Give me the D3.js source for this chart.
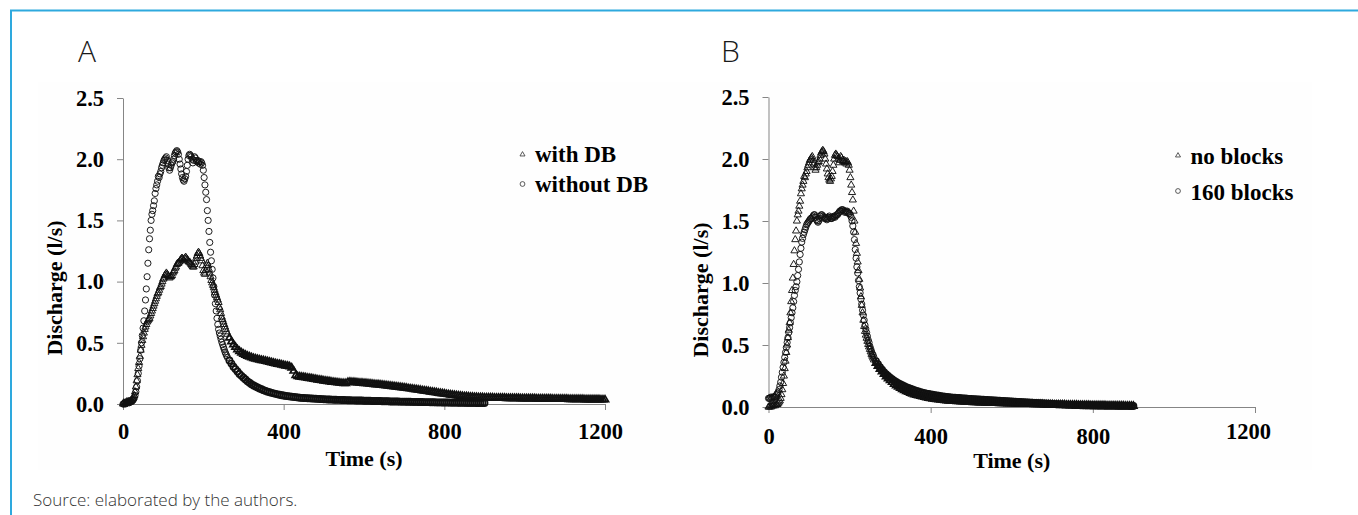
<!DOCTYPE html>
<html><head><meta charset="utf-8">
<script src="https://cdn.jsdelivr.net/npm/d3@7"></script>
<style>html,body{margin:0;padding:0;background:#fff}svg{display:block}</style>
</head><body>
<svg id="c" width="1358" height="515"></svg>
<script>
// ---------------- DATA ----------------
const xTicks = [0, 400, 800, 1200];
const yTicks = [0, 0.5, 1.0, 1.5, 2.0, 2.5];
// sampling of the series: rising/peak segment and tail segment
const peakStart = 0, peakStep = 2;      // t = 0..260 s
const tailStart = 265, tailStep = 5;    // t = 265.. s

const withoutDB_peak = [
 0.00,0.00,0.01,0.00,0.01,0.01,0.01,0.02,0.01,0.02,
 0.02,0.02,0.03,0.04,0.05,0.07,0.10,0.14,0.19,0.25,
 0.31,0.37,0.44,0.50,0.56,0.62,0.68,0.76,0.85,0.94,
 1.04,1.15,1.26,1.35,1.42,1.50,1.55,1.58,1.62,1.66,
 1.72,1.76,1.79,1.82,1.86,1.85,1.88,1.90,1.93,1.95,
 1.97,1.99,2.00,2.01,2.02,1.99,1.96,1.93,1.91,1.93,
 1.95,1.97,1.98,2.00,2.03,2.05,2.06,2.07,2.06,2.04,
 2.00,1.96,1.92,1.88,1.85,1.83,1.82,1.84,1.86,1.90,
 1.95,2.00,2.03,2.04,2.03,2.02,2.00,1.97,1.99,2.02,
 2.01,1.99,1.98,1.99,1.97,1.98,1.96,1.98,1.97,1.95,
 1.91,1.85,1.79,1.73,1.67,1.58,1.50,1.41,1.32,1.24,
 1.17,1.10,1.03,0.96,0.89,0.82,0.76,0.70,0.65,0.61,
 0.58,0.555,0.53,0.505,0.485,0.465,0.445,0.425,0.41,0.395,
 0.38];
const withoutDB_tail = [
 0.355,0.33,0.305,0.285,0.265,0.245,0.23,0.215,0.20,0.185,
 0.173,0.162,0.152,0.143,0.135,0.127,0.12,0.113,0.107,0.101,
 0.096,0.091,0.087,0.083,0.079,0.075,0.072,0.069,0.066,0.064,
 0.062,0.06,0.058,0.056,0.054,0.052,0.05,0.049,0.048,0.047,
 0.046,0.045,0.044,0.043,0.042,0.041,0.04,0.039,0.038,0.037,
 0.037,0.036,0.035,0.035,0.034,0.034,0.033,0.033,0.032,0.031,
 0.031,0.03,0.03,0.029,0.029,0.028,0.028,0.027,0.027,0.026,
 0.026,0.025,0.025,0.024,0.024,0.024,0.023,0.023,0.022,0.022,
 0.021,0.021,0.021,0.02,0.02,0.019,0.019,0.019,0.018,0.018,
 0.018,0.017,0.017,0.017,0.016,0.016,0.016,0.015,0.015,0.015,
 0.014,0.014,0.014,0.013,0.013,0.013,0.012,0.012,0.012,0.012,
 0.011,0.011,0.011,0.011,0.01,0.01,0.01,0.01,0.009,0.009,
 0.009,0.009,0.009,0.008,0.008,0.008,0.008,0.008];

const withDB_peak = [
 0.00,0.01,0.00,0.01,0.01,0.02,0.01,0.02,0.02,0.02,
 0.03,0.03,0.04,0.05,0.07,0.10,0.14,0.19,0.24,0.29,
 0.34,0.39,0.44,0.48,0.52,0.55,0.58,0.61,0.63,0.65,
 0.67,0.68,0.69,0.70,0.72,0.74,0.76,0.78,0.80,0.82,
 0.84,0.86,0.88,0.90,0.91,0.93,0.95,0.96,0.98,1.00,
 1.02,1.03,1.05,1.06,1.07,1.06,1.05,1.04,1.03,1.04,
 1.04,1.05,1.07,1.08,1.09,1.11,1.12,1.14,1.15,1.15,
 1.16,1.17,1.18,1.19,1.19,1.18,1.17,1.19,1.20,1.19,
 1.18,1.17,1.16,1.16,1.15,1.14,1.13,1.12,1.12,1.14,
 1.16,1.19,1.21,1.23,1.24,1.23,1.21,1.19,1.17,1.13,
 1.09,1.07,1.06,1.09,1.13,1.15,1.13,1.10,1.07,1.04,
 1.01,0.99,0.97,0.95,0.93,0.91,0.89,0.87,0.85,0.83,
 0.79,0.77,0.74,0.71,0.69,0.67,0.65,0.63,0.61,0.59,
 0.57];
const withDB_tail = [
 0.54,0.51,0.485,0.465,0.445,0.43,0.418,0.408,0.399,0.391,
 0.385,0.379,0.374,0.369,0.365,0.361,0.357,0.354,0.351,0.347,
 0.343,0.339,0.335,0.331,0.327,0.324,0.32,0.316,0.312,0.31,
 0.305,0.295,0.27,0.235,0.225,0.222,0.22,0.218,0.215,0.212,
 0.21,0.207,0.204,0.201,0.198,0.196,0.193,0.19,0.188,0.185,
 0.183,0.18,0.178,0.176,0.174,0.172,0.17,0.168,0.168,0.178,
 0.18,0.178,0.177,0.175,0.174,0.172,0.171,0.169,0.168,0.166,
 0.165,0.163,0.161,0.159,0.158,0.156,0.154,0.152,0.15,0.148,
 0.146,0.144,0.142,0.14,0.138,0.136,0.134,0.132,0.13,0.127,
 0.125,0.123,0.12,0.118,0.115,0.113,0.11,0.108,0.105,0.103,
 0.1,0.098,0.095,0.093,0.09,0.088,0.085,0.083,0.08,0.078,
 0.075,0.073,0.071,0.069,0.067,0.065,0.063,0.061,0.06,0.058,
 0.057,0.056,0.055,0.054,0.053,0.052,0.052,0.051,0.051,0.05,
 0.05,0.05,0.049,0.049,0.049,0.048,0.048,0.048,0.047,0.047,
 0.047,0.046,0.046,0.046,0.046,0.045,0.045,0.045,0.045,0.044,
 0.044,0.044,0.044,0.043,0.043,0.043,0.043,0.042,0.042,0.042,
 0.042,0.041,0.041,0.041,0.041,0.04,0.04,0.04,0.04,0.039,
 0.039,0.039,0.039,0.038,0.038,0.038,0.038,0.037,0.037,0.037,
 0.037,0.036,0.036,0.036,0.036,0.035,0.035,0.035];

// panel B: "no blocks" is the same run as "without DB"
const noBlocks_peak = withoutDB_peak;
const noBlocks_tail = withoutDB_tail;
const blocks160_peak = [
 0.07,0.07,0.07,0.08,0.07,0.08,0.08,0.08,0.08,0.09,
 0.10,0.11,0.12,0.14,0.17,0.20,0.24,0.28,0.32,0.36,
 0.40,0.44,0.48,0.52,0.56,0.60,0.64,0.68,0.72,0.76,
 0.80,0.85,0.90,0.94,0.97,1.01,1.06,1.11,1.17,1.23,
 1.28,1.33,1.36,1.39,1.41,1.43,1.45,1.47,1.48,1.49,
 1.50,1.51,1.52,1.52,1.53,1.54,1.55,1.55,1.53,1.51,
 1.50,1.49,1.50,1.52,1.54,1.55,1.55,1.54,1.53,1.52,
 1.53,1.52,1.51,1.52,1.53,1.54,1.53,1.52,1.52,1.53,
 1.53,1.54,1.53,1.54,1.55,1.55,1.56,1.57,1.58,1.58,
 1.59,1.59,1.59,1.58,1.57,1.58,1.57,1.58,1.57,1.56,
 1.56,1.55,1.53,1.50,1.46,1.41,1.35,1.27,1.20,1.13,
 1.08,1.02,0.97,0.92,0.87,0.83,0.78,0.74,0.70,0.66,
 0.63,0.60,0.57,0.54,0.52,0.49,0.47,0.45,0.43,0.42,
 0.40];
const blocks160_tail = [
 0.37,0.345,0.32,0.30,0.28,0.265,0.25,0.237,0.225,0.213,
 0.202,0.192,0.183,0.175,0.167,0.16,0.153,0.147,0.141,0.135,
 0.13,0.125,0.12,0.116,0.112,0.108,0.105,0.102,0.099,0.096,
 0.093,0.091,0.088,0.086,0.084,0.082,0.08,0.078,0.076,0.075,
 0.073,0.072,0.07,0.069,0.068,0.066,0.065,0.064,0.063,0.062,
 0.061,0.06,0.059,0.058,0.057,0.056,0.055,0.054,0.053,0.052,
 0.051,0.05,0.049,0.048,0.047,0.046,0.045,0.044,0.043,0.042,
 0.041,0.04,0.039,0.038,0.037,0.036,0.035,0.034,0.033,0.032,
 0.031,0.03,0.029,0.028,0.027,0.026,0.025,0.024,0.023,0.022,
 0.021,0.021,0.02,0.019,0.018,0.018,0.017,0.016,0.016,0.015,
 0.015,0.014,0.014,0.013,0.013,0.013,0.012,0.012,0.012,0.011,
 0.011,0.011,0.011,0.01,0.01,0.01,0.01,0.01,0.01,0.009,
 0.009,0.009,0.009,0.009,0.009,0.008,0.008,0.008];

const legendA = ["with DB", "without DB"];
const legendB = ["no blocks", "160 blocks"];
const panelLabels = ["A", "B"];
const xTitle = "Time (s)";
const yTitle = "Discharge (l/s)";
const sourceText = "Source: elaborated by the authors.";

// ---------------- DRAW ----------------
const svg = d3.select("#c");
const serif = "'Liberation Serif','Times New Roman',Times,serif";
const sans = "'Open Sans','Lato','DejaVu Sans',sans-serif";

svg.append("rect").attr("x",38).attr("y",82).attr("width",1274).attr("height",388).attr("fill","#fefefe");
svg.append("path").attr("d","M11,515V10.5H1358").attr("fill","none")
   .attr("stroke","#2ea9de").attr("stroke-width",2);

function toPoints(peak, tail){
  const a = peak.map((q,i)=>({t: peakStart + i*peakStep, q, tail: false}));
  const b = tail.map((q,i)=>({t: tailStart + i*tailStep, q, tail: true}));
  return a.concat(b);
}

const triSym = d3.symbol().type(d3.symbolTriangle).size(22);
const triLeg = d3.symbol().type(d3.symbolTriangle).size(11);

const panels = [
  {label: panelLabels[0], lx: 78, x0: 123, x1: 605, yb: 404, yt: 98,
   series: [ {pts: toPoints(withDB_peak, withDB_tail), shape: "tri"},
             {pts: toPoints(withoutDB_peak, withoutDB_tail), shape: "circ"} ],
   legend: legendA, legX: 522.5, legMarkY: [154.5, 184], legTextY: [162, 192],
   yTitleX: 62, yTitleY: 288, xPad: 13.2, titleY: 466, lastDx: -5, lastDy: 0},
  {label: panelLabels[1], lx: 721, x0: 768.5, x1: 1255, yb: 407, yt: 97,
   series: [ {pts: toPoints(noBlocks_peak, noBlocks_tail), shape: "tri"},
             {pts: toPoints(blocks160_peak, blocks160_tail), shape: "circ"} ],
   legend: legendB, legX: 1178, legMarkY: [155.5, 191], legTextY: [163.5, 199.5],
   yTitleX: 708, yTitleY: 290, xPad: 14.6, titleY: 468, lastDx: -7, lastDy: -5}
];

panels.forEach(p => {
  const x = d3.scaleLinear().domain([0,1200]).range([p.x0, p.x1]);
  const y = d3.scaleLinear().domain([0,2.5]).range([p.yb, p.yt]);

  // panel letter
  svg.append("text").attr("x",p.lx).attr("y",62).text(p.label)
     .attr("font-family",sans).attr("font-weight",300).attr("font-size",30).attr("fill","#1a1a1a");

  // axes
  const gy = svg.append("g").attr("transform",`translate(${p.x0},0)`)
     .call(d3.axisLeft(y).tickValues(yTicks).tickFormat(d3.format(".1f")).tickSize(6).tickSizeOuter(0).tickPadding(13));
  const gx = svg.append("g").attr("transform",`translate(0,${p.yb})`)
     .call(d3.axisBottom(x).tickValues(xTicks).tickFormat(d3.format("d")).tickSize(6).tickSizeOuter(0).tickPadding(p.xPad));
  [gx, gy].forEach(g => {
    g.attr("font-family", serif).attr("font-size", 22.5).attr("font-weight","bold");
    g.selectAll("path,line").attr("stroke","#858585").attr("stroke-width",1);
    g.selectAll("text").attr("fill","#000");
  });
  gx.selectAll(".tick").filter(d => d === 1200).select("text")
    .attr("dx", p.lastDx).attr("transform", `translate(0,${p.lastDy})`);

  // titles
  svg.append("text").attr("x",(p.x0+p.x1)/2).attr("y",p.titleY).attr("text-anchor","middle")
     .attr("font-family",serif).attr("font-weight","bold").attr("font-size",22).text(xTitle);
  svg.append("text").attr("transform",`translate(${p.yTitleX},${p.yTitleY}) rotate(-90)`)
     .attr("text-anchor","middle").attr("font-family",serif).attr("font-weight","bold")
     .attr("font-size",22).text(yTitle);

  // data marks
  p.series.forEach(s => {
    const g = svg.append("g").attr("fill","none").attr("stroke","#111");
    if (s.shape === "circ") {
      g.selectAll("circle").data(s.pts).join("circle")
        .attr("cx", d => x(d.t)).attr("cy", d => y(d.q)).attr("r", 3.1)
        .attr("stroke-width", d => d.tail ? 1.7 : 0.95);
    } else {
      g.selectAll("path").data(s.pts).join("path")
        .attr("d", triSym).attr("transform", d => `translate(${x(d.t)},${y(d.q)})`)
        .attr("stroke-width", d => d.tail ? 1.7 : 0.95);
    }
  });

  // legend
  p.legend.forEach((name, i) => {
    if (i === 0) {
      svg.append("path").attr("d", triLeg).attr("transform",`translate(${p.legX},${p.legMarkY[i]})`)
        .attr("fill","none").attr("stroke","#333").attr("stroke-width",0.8);
    } else {
      svg.append("circle").attr("cx",p.legX).attr("cy",p.legMarkY[i]).attr("r",2.4)
        .attr("fill","none").attr("stroke","#333").attr("stroke-width",0.8);
    }
    svg.append("text").attr("x", p.legX + 12.5).attr("y", p.legTextY[i])
      .attr("font-family",serif).attr("font-weight","bold").attr("font-size",23).text(name);
  });
});

svg.append("text").attr("x",33).attr("y",506).text(sourceText)
   .attr("font-family",sans).attr("font-weight",300).attr("font-size",17).attr("fill","#333");
</script>
</body></html>
